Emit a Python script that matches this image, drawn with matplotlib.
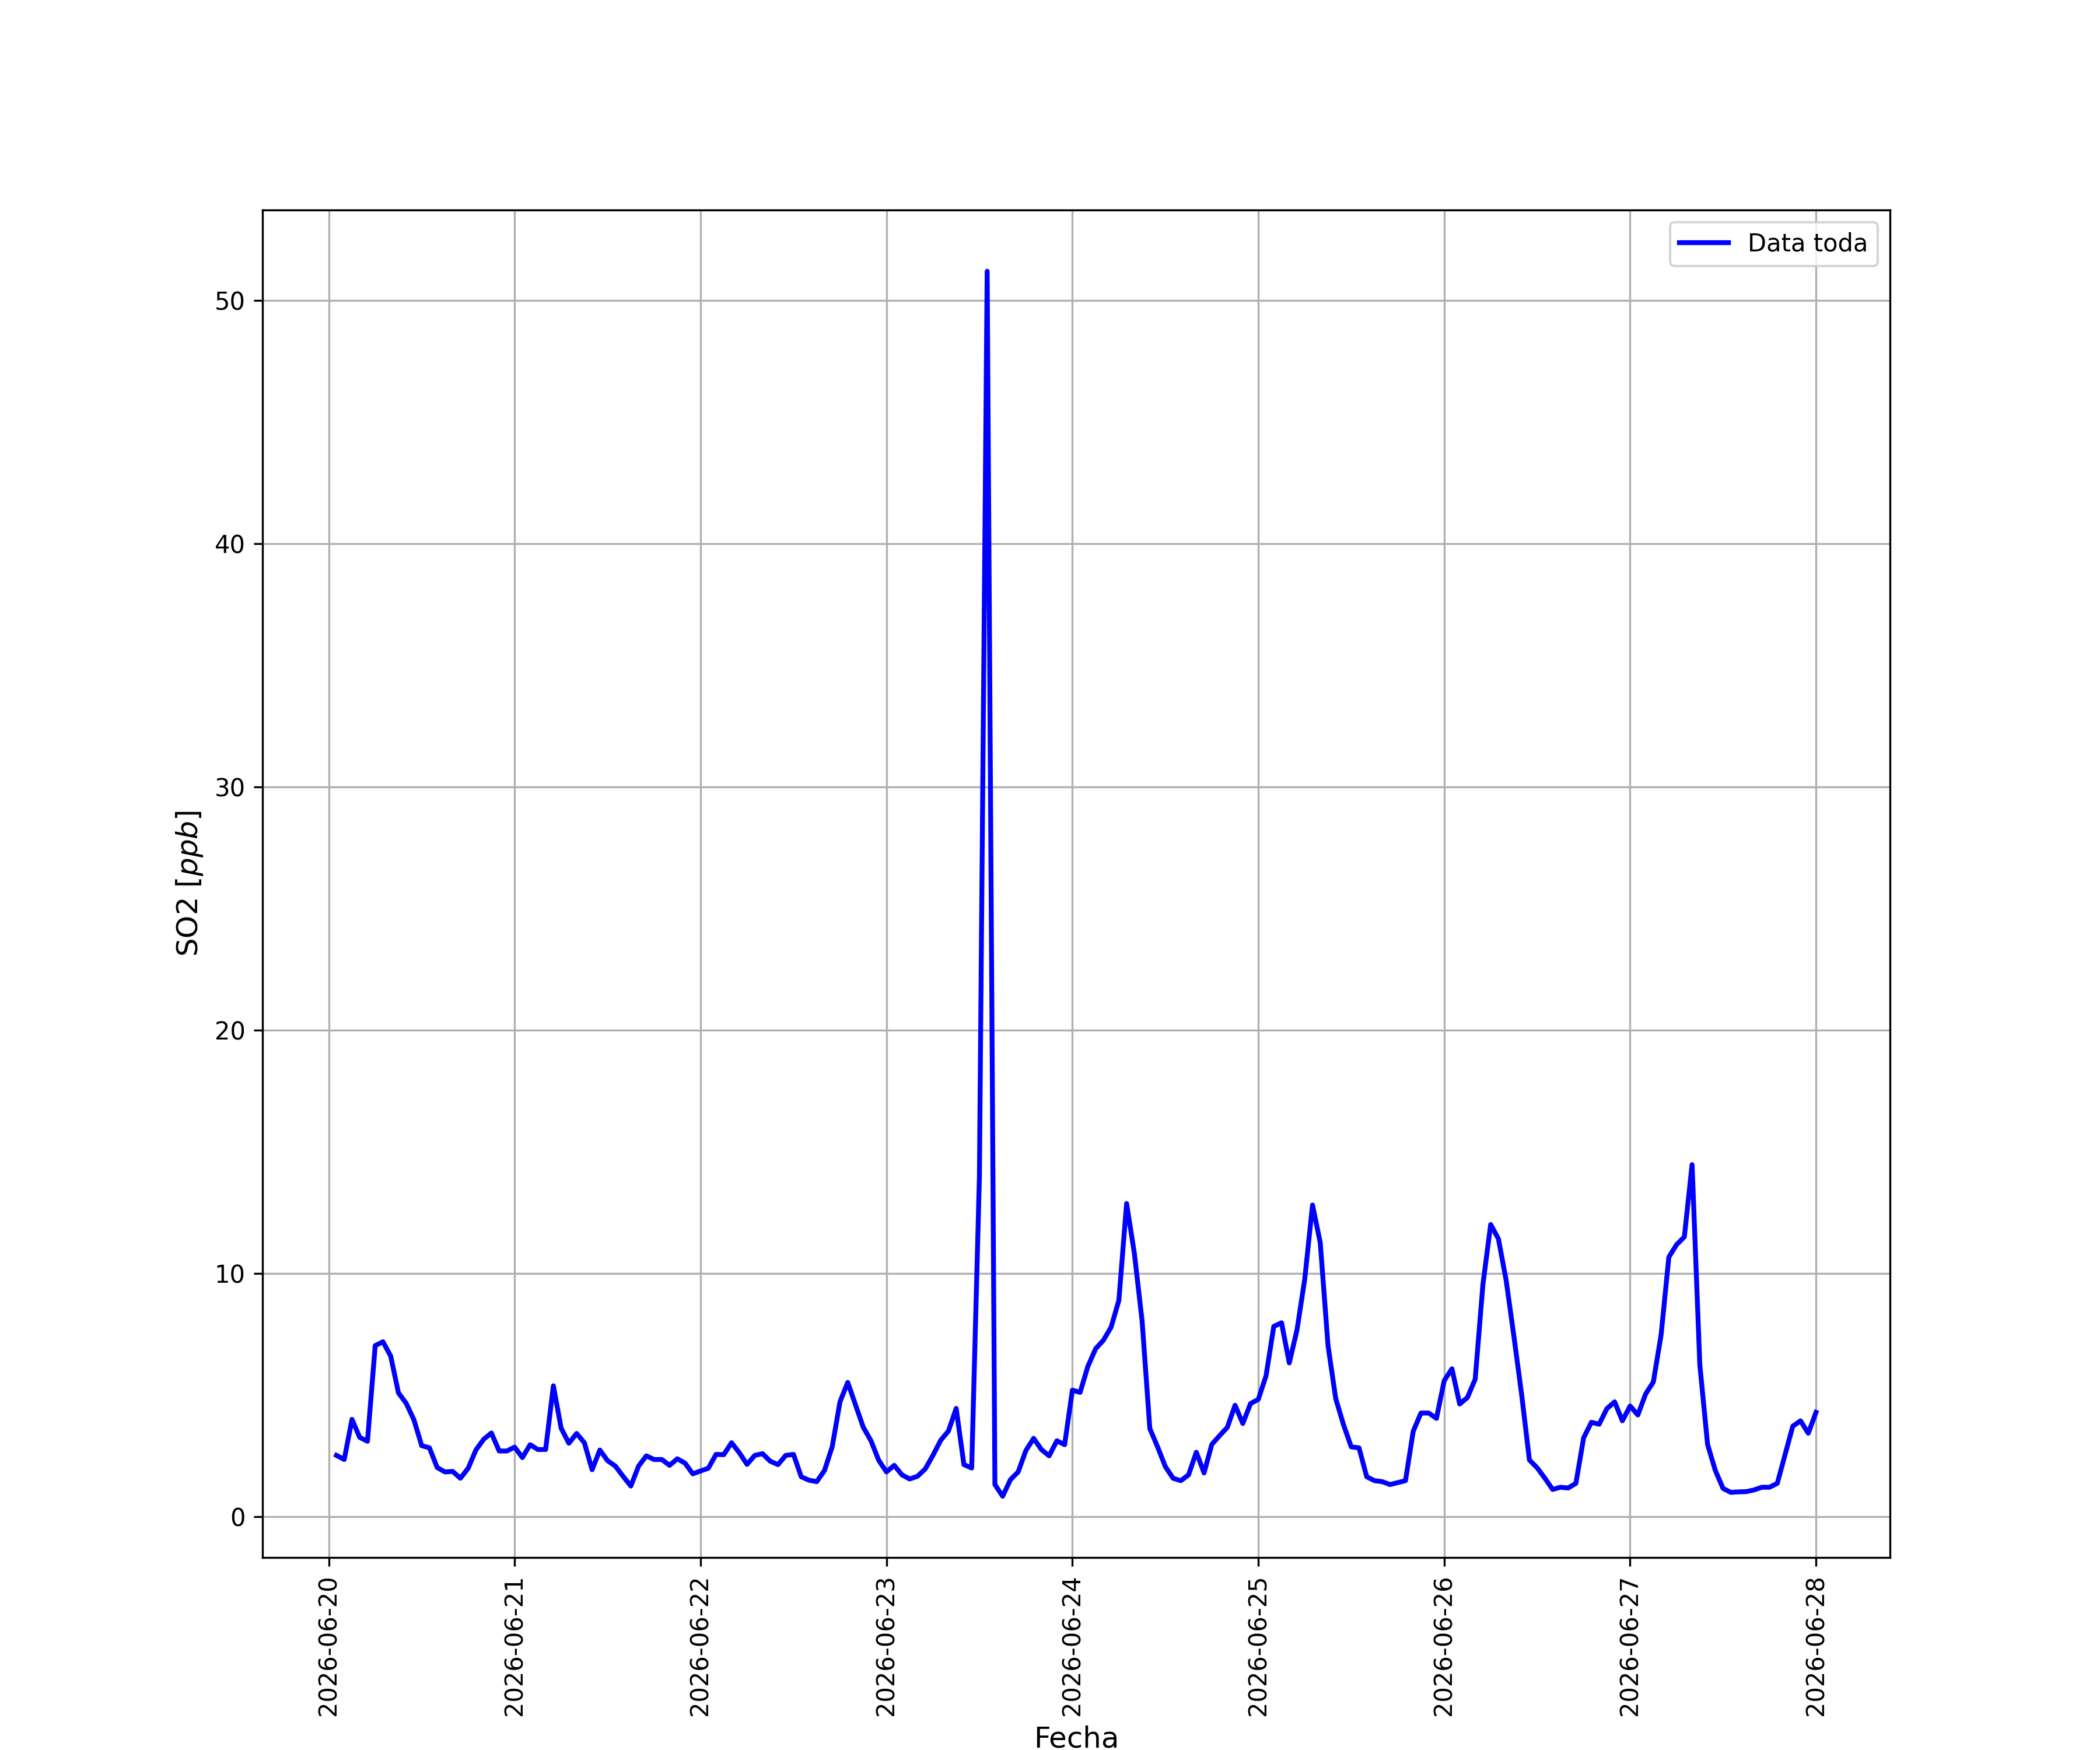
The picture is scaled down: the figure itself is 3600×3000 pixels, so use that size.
import numpy as np
import pandas as pd
import matplotlib
matplotlib.use("Agg")
import matplotlib.pyplot as plt
import matplotlib.dates as mdates

# Hourly SO2 readings, 2026-06-20 01:00 .. 2026-06-28 00:00 (one list per day, hours 01..24)
day_20 = [2.53, 2.36, 4.01, 3.27, 3.11, 7.04, 7.20, 6.61, 5.10, 4.67, 3.99, 2.93,
          2.84, 2.03, 1.85, 1.87, 1.59, 2.00, 2.75, 3.19, 3.45, 2.71, 2.71, 2.87]
day_21 = [2.44, 2.97, 2.77, 2.77, 5.39, 3.65, 3.03, 3.43, 3.05, 1.94, 2.75, 2.31,
          2.09, 1.67, 1.27, 2.09, 2.51, 2.36, 2.36, 2.12, 2.39, 2.21, 1.77, 1.89]
day_22 = [2.00, 2.57, 2.56, 3.05, 2.64, 2.16, 2.53, 2.60, 2.29, 2.15, 2.53, 2.57,
          1.65, 1.51, 1.45, 1.91, 2.89, 4.73, 5.53, 4.61, 3.69, 3.13, 2.33, 1.85]
day_23 = [2.12, 1.73, 1.56, 1.67, 1.97, 2.53, 3.15, 3.53, 4.46, 2.15, 2.01, 14.0,
          51.2, 1.33, 0.85, 1.53, 1.85, 2.73, 3.23, 2.77, 2.51, 3.13, 2.97, 5.21]
day_24 = [5.12, 6.19, 6.91, 7.26, 7.80, 8.90, 12.88, 10.84, 8.06, 3.63, 2.88, 2.07,
          1.59, 1.49, 1.73, 2.66, 1.81, 2.98, 3.34, 3.68, 4.59, 3.84, 4.66, 4.83]
day_25 = [5.80, 7.83, 7.98, 6.33, 7.69, 9.78, 12.82, 11.27, 7.05, 4.86, 3.79, 2.88,
          2.84, 1.65, 1.49, 1.45, 1.33, 1.41, 1.49, 3.52, 4.27, 4.27, 4.05, 5.60]
day_26 = [6.09, 4.64, 4.91, 5.66, 9.56, 12.02, 11.43, 9.72, 7.42, 5.02, 2.34, 2.02,
          1.59, 1.13, 1.22, 1.19, 1.38, 3.25, 3.89, 3.81, 4.45, 4.73, 3.95, 4.56]
day_27 = [4.19, 5.05, 5.55, 7.48, 10.68, 11.19, 11.51, 14.48, 6.25, 2.98, 1.91, 1.17,
          1.01, 1.03, 1.04, 1.11, 1.22, 1.22, 1.38, 2.56, 3.73, 3.95, 3.44, 4.30]

so2_values = day_20 + day_21 + day_22 + day_23 + day_24 + day_25 + day_26 + day_27
fechas = pd.date_range("2026-06-20 01:00", periods=len(so2_values), freq="h")

series_label = "Data toda"
x_label = "Fecha"
y_label = "SO2 [$ppb$]"

fig, ax = plt.subplots(figsize=(12, 10), dpi=300)
ax.plot(fechas, so2_values, color="blue", linewidth=2, label=series_label)
ax.grid(True)
ax.xaxis.set_major_locator(mdates.DayLocator())
ax.xaxis.set_major_formatter(mdates.DateFormatter("%Y-%m-%d"))
plt.setp(ax.get_xticklabels(), rotation=90)
ax.set_xlabel(x_label, fontsize=12)
ax.set_ylabel(y_label, fontsize=12)
ax.legend(loc="upper right")

fig.savefig("out.png", dpi=300)
